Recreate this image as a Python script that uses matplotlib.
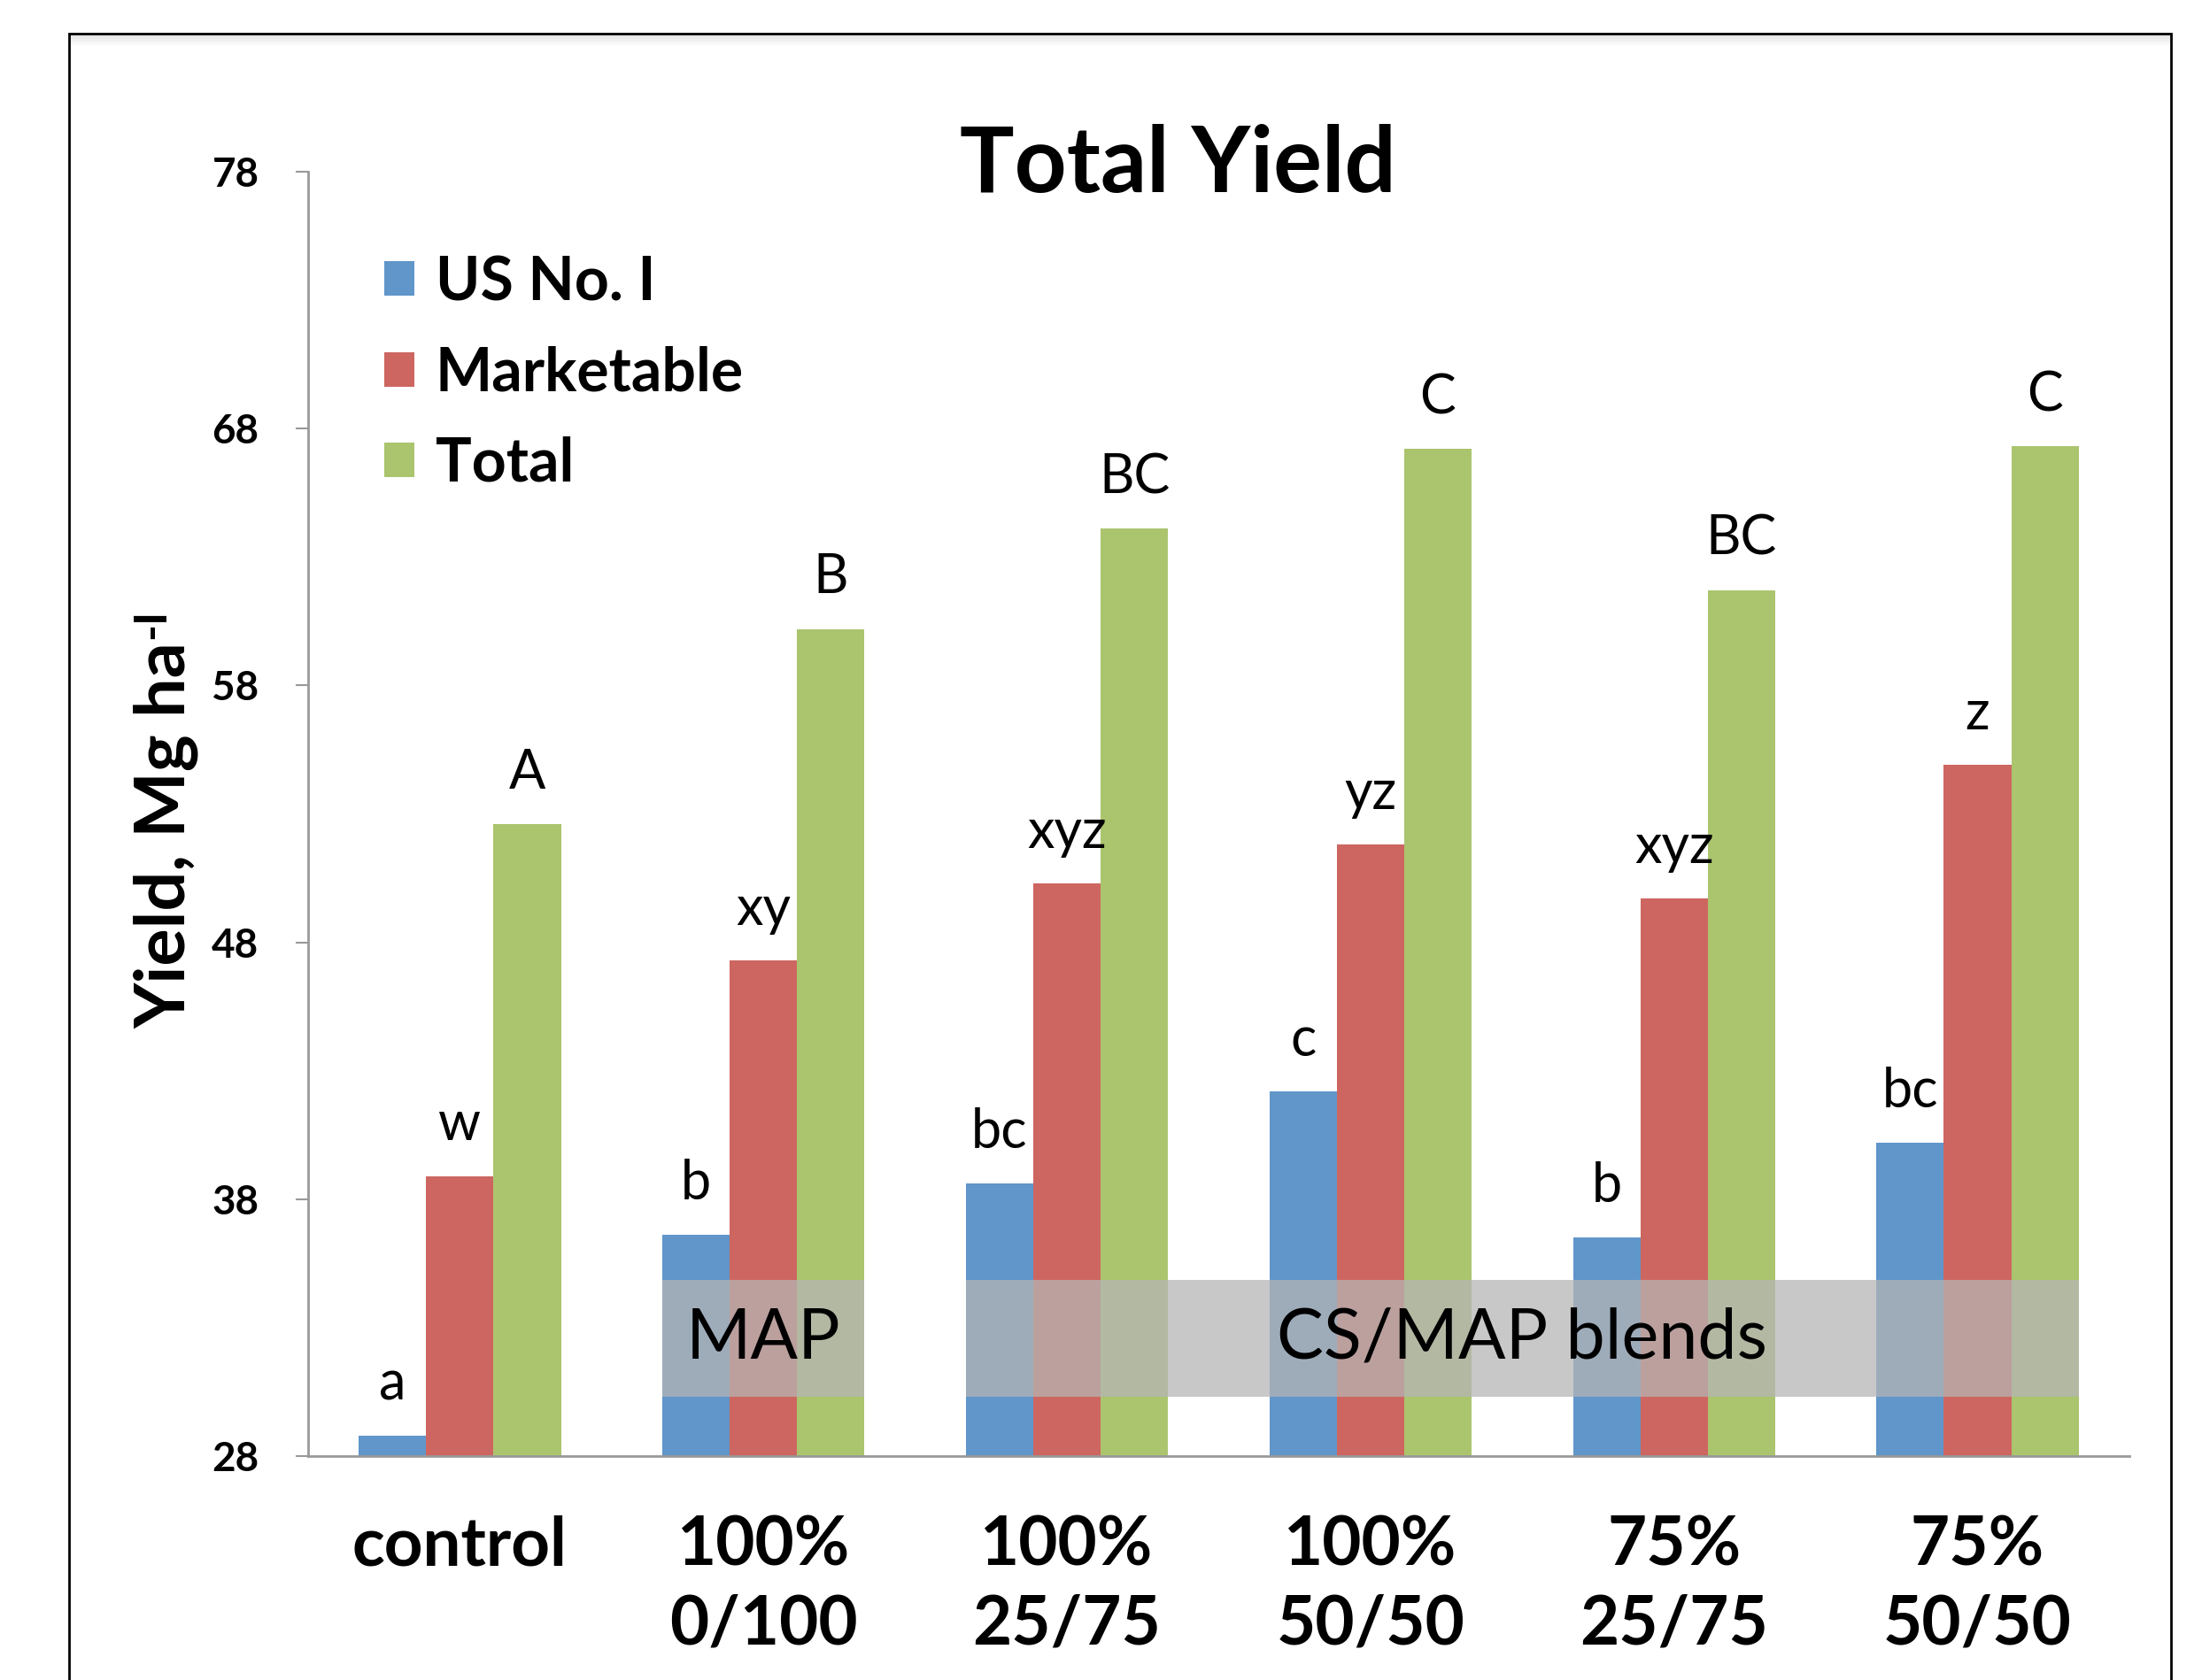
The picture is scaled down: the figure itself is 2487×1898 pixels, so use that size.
import matplotlib.pyplot as plt
import numpy as np
from matplotlib.patches import Rectangle

# yields, Mg/ha
categories = ['control', '100%\n0/100', '100%\n25/75', '100%\n50/50', '75%\n25/75', '75%\n50/50']
us_no1 = [28.8, 36.6, 38.6, 42.2, 36.5, 40.2]
marketable = [38.9, 47.3, 50.3, 51.8, 49.7, 54.9]
total = [52.6, 60.2, 64.1, 67.2, 61.7, 67.3]

us_no1_letters = ['a', 'b', 'bc', 'c', 'b', 'bc']
marketable_letters = ['w', 'xy', 'xyz', 'yz', 'xyz', 'z']
total_letters = ['A', 'B', 'BC', 'C', 'BC', 'C']

series_names = ['US No. I', 'Marketable', 'Total']
colors = ['#6096C9', '#CD6660', '#ABC46E']

yticks = [28, 38, 48, 58, 68, 78]

# shaded group labels: (first category, last category, text)
bands = [(1, 1, 'MAP'), (2, 5, 'CS/MAP blends')]

plt.rcParams['font.family'] = ['Lato', 'DejaVu Sans']

W, H = 2487, 1898
fig = plt.figure(figsize=(W / 100, H / 100), dpi=100)
ax = fig.add_axes([0.1399, 0.1333, 0.967 - 0.1399, 0.8978 - 0.1333])

x = np.arange(len(categories))
w = 0.222
data = [us_no1, marketable, total]
letters = [us_no1_letters, marketable_letters, total_letters]
handles = []
for i, (vals, labs) in enumerate(zip(data, letters)):
    xs = x + (i - 1) * w
    b = ax.bar(xs, np.array(vals) - 28, width=w, bottom=28, color=colors[i],
               label=series_names[i], zorder=2)
    handles.append(b)
    for xi, v, t in zip(xs, vals, labs):
        ax.annotate(t, (xi, v), xytext=(0, 29), textcoords='offset points',
                    ha='center', va='baseline', fontsize=44, zorder=4)

# translucent grey bands across the treatment groups
for c0, c1, txt in bands:
    left = x[c0] - 1.5 * w
    right = x[c1] + 1.5 * w
    ax.add_patch(Rectangle((left, 30.3), right - left, 4.55, facecolor='#b5b5b5',
                           alpha=0.74, edgecolor='none', zorder=3))
    ax.text((left + right) / 2, 32.55, txt, ha='center', va='center',
            fontsize=57, zorder=4)

ax.set_xlim(-0.5, len(categories) - 0.5)
ax.set_ylim(28, 78)
ax.set_yticks(yticks)
ax.set_xticks(x)
ax.set_xticklabels(categories, fontsize=55, fontweight='bold', linespacing=1.33)
for lab in ax.get_yticklabels():
    lab.set_fontsize(33)
    lab.set_fontweight('bold')
ax.tick_params(axis='y', length=10, width=1.5, color='#999999', pad=30)
ax.tick_params(axis='x', length=0, pad=48)
for s in ['top', 'right']:
    ax.spines[s].set_visible(False)
for s in ['left', 'bottom']:
    ax.spines[s].set_color('#999999')
    ax.spines[s].set_linewidth(2)

# y label with a small raised "-I"
ylab = fig.text(209 / W, 1 - 944 / H, 'Yield, Mg ha', rotation=90, rotation_mode='anchor',
                ha='center', va='baseline', fontsize=57, fontweight='bold')
fig.canvas.draw()
bb = ylab.get_window_extent()
fig.text(186 / W, (bb.y1 + 4) / H, '-I', rotation=90, rotation_mode='anchor',
         ha='left', va='baseline', fontsize=37, fontweight='bold')

fig.text(1330 / W, 1 - 187 / H, 'Total Yield', ha='center', va='center',
         fontsize=74, fontweight='bold')

leg = ax.legend(handles=handles, loc='upper left', bbox_to_anchor=(434 / W, 1 - 288 / H),
                bbox_transform=fig.transFigure, frameon=False,
                prop={'weight': 'bold', 'size': 49}, handlelength=0.5, handleheight=0.5,
                handletextpad=0.35, labelspacing=0.58, borderaxespad=0, borderpad=0)

# outer frame, open at the bottom, with a faint shadow under the top edge
for k in range(1, 7):
    fig.add_artist(plt.Line2D([80 / W, 2450 / W], [1 - (38 + 2 * k) / H] * 2,
                              transform=fig.transFigure, color='#000000',
                              alpha=0.07 * (7 - k) / 6, linewidth=2))
fig.add_artist(Rectangle((78 / W, -0.1), (2452 - 78) / W, 1.1 - 38 / H,
                         transform=fig.transFigure, fill=False, edgecolor='black',
                         linewidth=2, clip_on=False))

fig.savefig('out.png', dpi=100)
